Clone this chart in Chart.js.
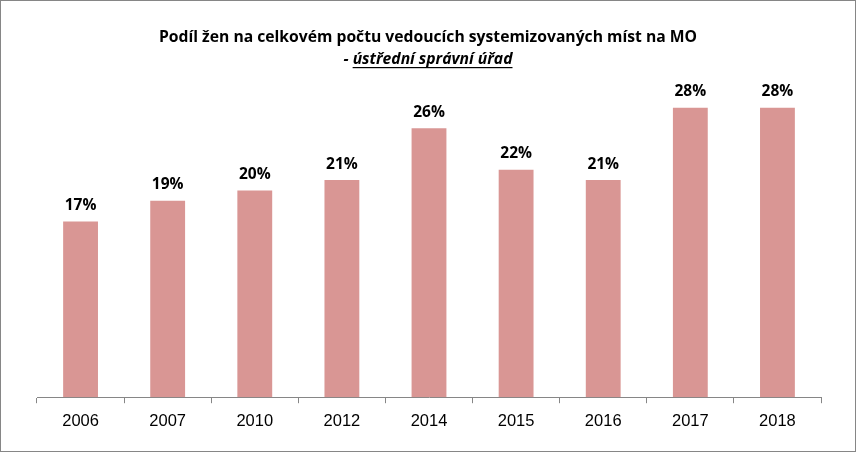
<!DOCTYPE html>
<html>
<head>
<meta charset="utf-8">
<script src="https://cdn.jsdelivr.net/npm/chart.js@4"></script>
<style>
  html, body { margin: 0; padding: 0; background: #fff; }
  #wrap { width: 856px; height: 452px; position: relative; box-sizing: border-box; border: 1px solid #868686; }
</style>
</head>
<body>
<div id="wrap"><canvas id="c"></canvas></div>
<script>
const years = ['2006', '2007', '2010', '2012', '2014', '2015', '2016', '2017', '2018'];
const shares = [17, 19, 20, 21, 26, 22, 21, 28, 28];
const titleLine1 = 'Podíl žen na celkovém počtu vedoucích systemizovaných míst na MO';
const titleLine2 = 'ústřední správní úřad';

const titlePlugin = {
  id: 'twoLineTitle',
  afterDraw(chart) {
    const ctx = chart.ctx;
    const cx = chart.width / 2;
    ctx.save();
    ctx.fillStyle = '#000';
    ctx.textBaseline = 'alphabetic';
    ctx.font = "bold 15.7px 'Open Sans', 'Liberation Sans', sans-serif";
    ctx.textAlign = 'center';
    ctx.fillText(titleLine1, cx, 41);
    ctx.font = "italic bold 15.7px 'Open Sans', 'Liberation Sans', sans-serif";
    const dash = '- ';
    const wDash = ctx.measureText(dash).width;
    const wText = ctx.measureText(titleLine2).width;
    const x0 = cx - (wDash + wText) / 2;
    ctx.textAlign = 'left';
    ctx.fillText(dash, x0, 63);
    ctx.fillText(titleLine2, x0 + wDash, 63);
    ctx.fillRect(x0 + wDash, 66, wText, 1.2);
    ctx.restore();
  }
};

const labelPlugin = {
  id: 'valueLabels',
  afterDatasetsDraw(chart) {
    const ctx = chart.ctx;
    ctx.save();
    ctx.font = "bold 15.5px 'Open Sans', 'Liberation Sans', sans-serif";
    ctx.fillStyle = '#000';
    ctx.textAlign = 'center';
    ctx.textBaseline = 'bottom';
    chart.getDatasetMeta(0).data.forEach((bar, i) => {
      ctx.fillText(shares[i] + '%', bar.x, bar.y - 8);
    });
    ctx.restore();
  }
};

new Chart(document.getElementById('c'), {
  type: 'bar',
  data: {
    labels: years,
    datasets: [{
      data: shares,
      backgroundColor: '#d99694',
      barPercentage: 0.4,
      categoryPercentage: 1
    }]
  },
  options: {
    responsive: true,
    maintainAspectRatio: false,
    animation: false,
    layout: { padding: { left: 36, right: 34, top: 86, bottom: 12 } },
    plugins: { legend: { display: false }, tooltip: { enabled: false } },
    scales: {
      x: {
        grid: { display: true, drawOnChartArea: false, offset: true, tickLength: 6, color: '#868686' },
        border: { color: '#868686' },
        ticks: { color: '#000', font: { size: 16.5, family: "'Liberation Sans', Arial, sans-serif" }, padding: 8 }
      },
      y: { display: false, min: 0, max: 30 }
    }
  },
  plugins: [titlePlugin, labelPlugin]
});
</script>
</body>
</html>
